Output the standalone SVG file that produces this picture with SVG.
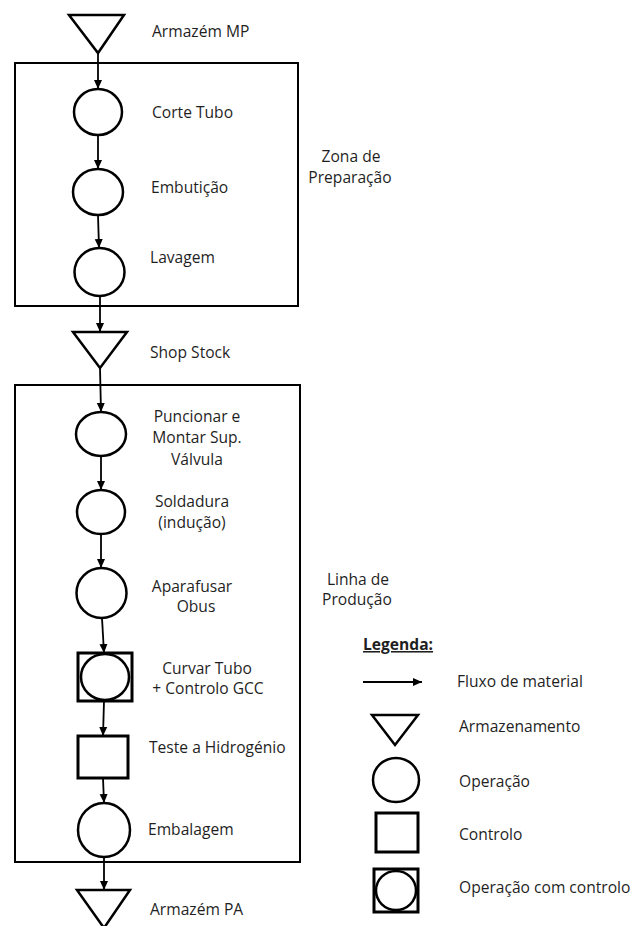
<svg xmlns="http://www.w3.org/2000/svg" width="633" height="926" viewBox="0 0 633 926">
  <style>
    .shape { fill: #fff; stroke: #000; stroke-width: 2.5; }
    .box { fill: none; stroke: #000; stroke-width: 2; }
    .sq { fill: #fff; stroke: #000; stroke-width: 3; }
    .flow { fill: none; stroke: #000; stroke-width: 1.8; marker-end: url(#arrow); }
    text { font-family: "Open Sans", "Liberation Sans", sans-serif; font-size: 15.6px; fill: #1f1f1f; }
    .mid { text-anchor: middle; }
    .title { font-weight: bold; text-decoration: underline; }
  </style>
  <defs>
    <marker id="arrow" markerUnits="userSpaceOnUse" markerWidth="10" markerHeight="10" refX="9" refY="5" orient="auto">
      <path d="M0,1 L9,5 L0,9 Z" fill="#000"/>
    </marker>
  </defs>

  <rect width="633" height="926" fill="#fff"/>

  <!-- Zone frames -->
  <g id="zona-preparacao">
    <rect class="box" x="15" y="63" width="283" height="243"/>
    <text class="mid" x="351" y="162">Zona de</text>
    <text class="mid" x="350" y="183">Preparação</text>
  </g>
  <g id="linha-producao">
    <rect class="box" x="15" y="385" width="285" height="477"/>
    <text class="mid" x="358" y="585">Linha de</text>
    <text class="mid" x="357" y="605">Produção</text>
  </g>

  <!-- Connectors -->
  <g id="connectors">
    <path class="flow" d="M98,53 L98,89"/>
    <path class="flow" d="M98,135 L98,169"/>
    <path class="flow" d="M98,215 L99,248"/>
    <path class="flow" d="M100,296 L100,332"/>
    <path class="flow" d="M100,368 L101,412"/>
    <path class="flow" d="M101,456 L101,490"/>
    <path class="flow" d="M101,534 L101,568"/>
    <path class="flow" d="M102,618 L104,653"/>
    <path class="flow" d="M104,701 L103,736"/>
    <path class="flow" d="M103,778 L104,803"/>
    <path class="flow" d="M104,857 L104,890"/>
  </g>

  <!-- Process nodes -->
  <g id="armazem-mp">
    <polygon class="shape" points="69,15 124,15 98,53"/>
    <text x="152" y="37">Armazém MP</text>
  </g>
  <g id="corte-tubo">
    <ellipse class="shape" cx="98" cy="112" rx="24" ry="23"/>
    <text x="152" y="118">Corte Tubo</text>
  </g>
  <g id="embuticao">
    <ellipse class="shape" cx="98" cy="192" rx="25" ry="23"/>
    <text x="151" y="193">Embutição</text>
  </g>
  <g id="lavagem">
    <ellipse class="shape" cx="99.5" cy="272" rx="25" ry="24"/>
    <text x="150" y="263">Lavagem</text>
  </g>
  <g id="shop-stock">
    <polygon class="shape" points="73,332 127,332 100,368"/>
    <text x="150" y="358">Shop Stock</text>
  </g>
  <g id="puncionar">
    <ellipse class="shape" cx="101" cy="434" rx="25" ry="22"/>
    <text class="mid" x="197" y="422">Puncionar e</text>
    <text class="mid" x="197" y="443">Montar Sup.</text>
    <text class="mid" x="197" y="465">Válvula</text>
  </g>
  <g id="soldadura">
    <ellipse class="shape" cx="101" cy="512" rx="24" ry="22"/>
    <text class="mid" x="192" y="507">Soldadura</text>
    <text class="mid" x="192" y="528">(indução)</text>
  </g>
  <g id="aparafusar">
    <ellipse class="shape" cx="101.5" cy="593" rx="25" ry="25"/>
    <text class="mid" x="192" y="592">Aparafusar</text>
    <text class="mid" x="196" y="612">Obus</text>
  </g>
  <g id="curvar-tubo">
    <rect class="sq" x="78" y="653" width="54" height="48"/>
    <ellipse class="shape" cx="105" cy="677" rx="24" ry="23"/>
    <text class="mid" x="207" y="674">Curvar Tubo</text>
    <text class="mid" x="208" y="694">+ Controlo GCC</text>
  </g>
  <g id="teste-hidrogenio">
    <rect class="sq" x="78" y="736" width="50" height="42"/>
    <text x="149" y="753">Teste a Hidrogénio</text>
  </g>
  <g id="embalagem">
    <ellipse class="shape" cx="104" cy="830" rx="26" ry="27"/>
    <text x="148" y="835">Embalagem</text>
  </g>
  <g id="armazem-pa">
    <polygon class="shape" points="77,890 130,890 104,928"/>
    <text x="150" y="915">Armazém PA</text>
  </g>

  <!-- Legend -->
  <g id="legenda">
    <text class="title" x="363" y="650">Legenda:</text>
    <path class="flow" d="M363,682 L422,682"/>
    <text x="457" y="687">Fluxo de material</text>
    <polygon class="shape" points="372,715 418,715 395,745"/>
    <text x="459" y="732">Armazenamento</text>
    <ellipse class="shape" cx="396" cy="780" rx="23" ry="22"/>
    <text x="459" y="787">Operação</text>
    <rect class="sq" x="376" y="813" width="42" height="39"/>
    <text x="459" y="840">Controlo</text>
    <rect class="sq" x="374" y="869" width="44" height="43"/>
    <ellipse class="shape" cx="396" cy="890.5" rx="20" ry="19.5"/>
    <text x="459" y="893">Operação com controlo</text>
  </g>
</svg>
